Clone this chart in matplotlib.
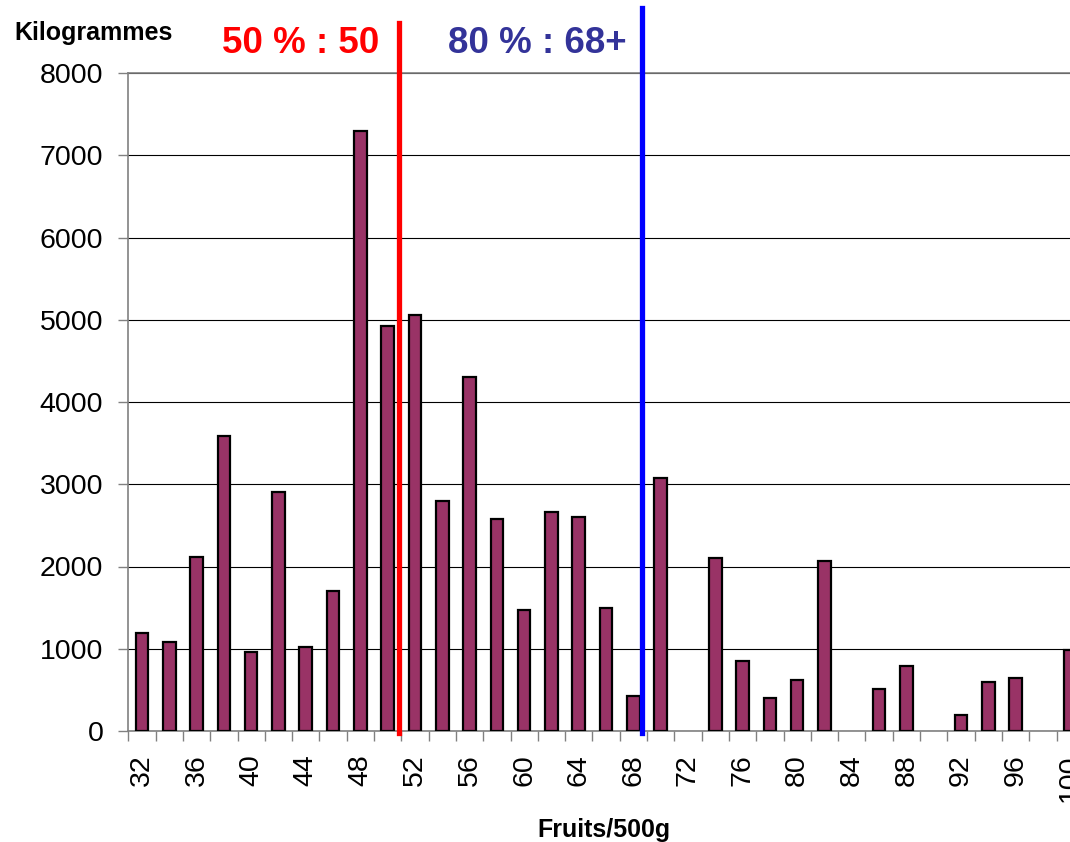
import numpy as np
import matplotlib
matplotlib.use('Agg')
import matplotlib.pyplot as plt

plt.rcParams['font.family'] = ['Liberation Sans', 'DejaVu Sans']

# fruits par 500 g (classes de 2) et poids en kg
calibres = np.arange(32, 101, 2)
kilos = np.array([1190, 1080, 2120, 3590, 960, 2910, 1020, 1700, 7290, 4920,
                  5060, 2800, 4300, 2580, 1470, 2660, 2600, 1500, 420, 3080,
                  0, 2100, 850, 400, 620, 2070, 0, 510, 790, 0,
                  200, 600, 650, 0, 990])
tick_labels = [str(v) for v in range(32, 101, 4)]

# repères 50 % et 80 %
median_pos = 50.8
p80_pos = 68.6
median_label = '50 % : 50'
p80_label = '80 % : 68+'

W, H = 1070, 842
fig = plt.figure(figsize=(W / 100, H / 100), dpi=100)
# la zone de tracé dépasse à droite, comme sur l'original
ax = fig.add_axes([128.3 / W, (H - 731) / H, 955.5 / W, 658 / H])

# pas de barre pour les classes vides
plein = kilos > 0
ax.bar(calibres[plein], kilos[plein], width=0.92, color='#993366',
       edgecolor='black', linewidth=1.6, zorder=3)

ax.set_xlim(31, 101)
ax.set_ylim(0, 8000)
ax.set_yticks(np.arange(0, 8001, 1000))
ax.yaxis.grid(True, color='black', linewidth=0.8, zorder=1)

ax.set_xticks(np.arange(32, 101, 4))
ax.set_xticklabels(tick_labels, rotation=90, fontsize=20.5)
ax.set_xticks(np.arange(31, 102, 2), minor=True)
ax.tick_params(axis='x', which='major', length=0, pad=17)
ax.tick_params(axis='x', which='minor', length=7, width=1, color='#808080')
ax.tick_params(axis='y', length=7, width=1, color='#808080', labelsize=20.5, pad=11)

for side in ['left', 'bottom', 'top', 'right']:
    ax.spines[side].set_color('#808080')
    ax.spines[side].set_linewidth(1.2)

# lignes verticales
ax.axvline(median_pos, ymin=-0.003, ymax=1.076, color='#ff0000', linewidth=3.8, clip_on=False, zorder=4)
ax.axvline(p80_pos, ymin=-0.003, ymax=1.099, color='#0000ff', linewidth=3.8, clip_on=False, zorder=4)

fig.text(222 / W, 1 - 53 / H, median_label, color='#ff0000', fontsize=26.5, fontweight='bold', va='baseline')
fig.text(448 / W, 1 - 53 / H, p80_label, color='#333399', fontsize=26.5, fontweight='bold', va='baseline')

fig.text(14 / W, 1 - 40 / H, 'Kilogrammes', fontsize=18, fontweight='bold', va='baseline')
fig.text(604 / W, 1 - 837 / H, 'Fruits/500g', fontsize=18, fontweight='bold', ha='center', va='baseline')

fig.savefig('out.png', dpi=100)
